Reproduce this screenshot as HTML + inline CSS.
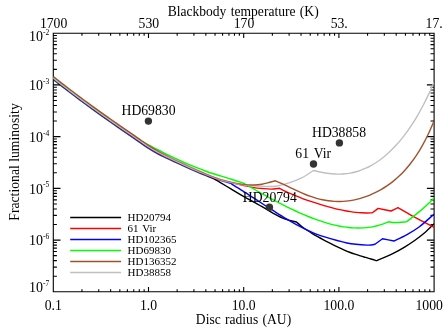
<!DOCTYPE html>
<html><head><meta charset="utf-8"><title>plot</title>
<style>
html,body{margin:0;padding:0;background:#fff;width:443px;height:332px;overflow:hidden}
#c{position:absolute;left:0;top:0;width:443px;height:332px;overflow:hidden;font-family:"Liberation Serif",serif;color:#000}
</style></head><body><div id="c">
<svg width="443" height="332" viewBox="0 0 443 332" style="display:block;position:absolute;left:0;top:0;will-change:transform">
<rect width="443" height="332" fill="#fff"/>
<path d="M53.3,33.2H434.1V291.8H53.3ZM53.30,291.8v-4.9M53.30,33.2v4.9M81.96,291.8v-2.5M81.96,33.2v2.5M98.72,291.8v-2.5M98.72,33.2v2.5M110.62,291.8v-2.5M110.62,33.2v2.5M119.84,291.8v-2.5M119.84,33.2v2.5M127.38,291.8v-2.5M127.38,33.2v2.5M133.75,291.8v-2.5M133.75,33.2v2.5M139.27,291.8v-2.5M139.27,33.2v2.5M144.14,291.8v-2.5M144.14,33.2v2.5M148.50,291.8v-4.9M148.50,33.2v4.9M177.16,291.8v-2.5M177.16,33.2v2.5M193.92,291.8v-2.5M193.92,33.2v2.5M205.82,291.8v-2.5M205.82,33.2v2.5M215.04,291.8v-2.5M215.04,33.2v2.5M222.58,291.8v-2.5M222.58,33.2v2.5M228.95,291.8v-2.5M228.95,33.2v2.5M234.47,291.8v-2.5M234.47,33.2v2.5M239.34,291.8v-2.5M239.34,33.2v2.5M243.70,291.8v-4.9M243.70,33.2v4.9M272.36,291.8v-2.5M272.36,33.2v2.5M289.12,291.8v-2.5M289.12,33.2v2.5M301.02,291.8v-2.5M301.02,33.2v2.5M310.24,291.8v-2.5M310.24,33.2v2.5M317.78,291.8v-2.5M317.78,33.2v2.5M324.15,291.8v-2.5M324.15,33.2v2.5M329.67,291.8v-2.5M329.67,33.2v2.5M334.54,291.8v-2.5M334.54,33.2v2.5M338.90,291.8v-4.9M338.90,33.2v4.9M367.56,291.8v-2.5M367.56,33.2v2.5M384.32,291.8v-2.5M384.32,33.2v2.5M396.22,291.8v-2.5M396.22,33.2v2.5M405.44,291.8v-2.5M405.44,33.2v2.5M412.98,291.8v-2.5M412.98,33.2v2.5M419.35,291.8v-2.5M419.35,33.2v2.5M424.87,291.8v-2.5M424.87,33.2v2.5M429.74,291.8v-2.5M429.74,33.2v2.5M434.10,291.8v-4.9M434.10,33.2v4.9M53.3,291.80h7.2M434.1,291.80h-7.2M53.3,276.23h3.6M434.1,276.23h-3.6M53.3,267.12h3.6M434.1,267.12h-3.6M53.3,260.66h3.6M434.1,260.66h-3.6M53.3,255.65h3.6M434.1,255.65h-3.6M53.3,251.55h3.6M434.1,251.55h-3.6M53.3,248.09h3.6M434.1,248.09h-3.6M53.3,245.09h3.6M434.1,245.09h-3.6M53.3,242.45h3.6M434.1,242.45h-3.6M53.3,240.08h7.2M434.1,240.08h-7.2M53.3,224.51h3.6M434.1,224.51h-3.6M53.3,215.40h3.6M434.1,215.40h-3.6M53.3,208.94h3.6M434.1,208.94h-3.6M53.3,203.93h3.6M434.1,203.93h-3.6M53.3,199.83h3.6M434.1,199.83h-3.6M53.3,196.37h3.6M434.1,196.37h-3.6M53.3,193.37h3.6M434.1,193.37h-3.6M53.3,190.73h3.6M434.1,190.73h-3.6M53.3,188.36h7.2M434.1,188.36h-7.2M53.3,172.79h3.6M434.1,172.79h-3.6M53.3,163.68h3.6M434.1,163.68h-3.6M53.3,157.22h3.6M434.1,157.22h-3.6M53.3,152.21h3.6M434.1,152.21h-3.6M53.3,148.11h3.6M434.1,148.11h-3.6M53.3,144.65h3.6M434.1,144.65h-3.6M53.3,141.65h3.6M434.1,141.65h-3.6M53.3,139.01h3.6M434.1,139.01h-3.6M53.3,136.64h7.2M434.1,136.64h-7.2M53.3,121.07h3.6M434.1,121.07h-3.6M53.3,111.96h3.6M434.1,111.96h-3.6M53.3,105.50h3.6M434.1,105.50h-3.6M53.3,100.49h3.6M434.1,100.49h-3.6M53.3,96.39h3.6M434.1,96.39h-3.6M53.3,92.93h3.6M434.1,92.93h-3.6M53.3,89.93h3.6M434.1,89.93h-3.6M53.3,87.29h3.6M434.1,87.29h-3.6M53.3,84.92h7.2M434.1,84.92h-7.2M53.3,69.35h3.6M434.1,69.35h-3.6M53.3,60.24h3.6M434.1,60.24h-3.6M53.3,53.78h3.6M434.1,53.78h-3.6M53.3,48.77h3.6M434.1,48.77h-3.6M53.3,44.67h3.6M434.1,44.67h-3.6M53.3,41.21h3.6M434.1,41.21h-3.6M53.3,38.21h3.6M434.1,38.21h-3.6M53.3,35.57h3.6M434.1,35.57h-3.6M53.3,33.20h7.2M434.1,33.20h-7.2" fill="none" stroke="#000" stroke-width="1.1"/>
<defs><linearGradient id="gblack" gradientUnits="userSpaceOnUse" x1="53.3" y1="0" x2="434.1" y2="0"><stop offset="0.0000" stop-color="#000" stop-opacity="0.7"/><stop offset="0.3984" stop-color="#000" stop-opacity="0.7"/><stop offset="0.4220" stop-color="#000" stop-opacity="1"/><stop offset="0.9997" stop-color="#000" stop-opacity="1"/></linearGradient><linearGradient id="gblue" gradientUnits="userSpaceOnUse" x1="53.3" y1="0" x2="434.1" y2="0"><stop offset="0.0000" stop-color="#00f" stop-opacity="0.5"/><stop offset="0.4430" stop-color="#00f" stop-opacity="0.5"/><stop offset="0.4693" stop-color="#00f" stop-opacity="1"/><stop offset="0.9997" stop-color="#00f" stop-opacity="1"/></linearGradient><linearGradient id="gbrown" gradientUnits="userSpaceOnUse" x1="53.3" y1="0" x2="434.1" y2="0"><stop offset="0.0000" stop-color="#a0522d" stop-opacity="1"/><stop offset="0.2539" stop-color="#a0522d" stop-opacity="1"/><stop offset="0.3117" stop-color="#a0522d" stop-opacity="0.6"/><stop offset="0.4798" stop-color="#a0522d" stop-opacity="0.6"/><stop offset="0.5165" stop-color="#a0522d" stop-opacity="1"/><stop offset="0.9997" stop-color="#a0522d" stop-opacity="1"/></linearGradient></defs>
<defs><clipPath id="cp"><rect x="53.3" y="33.2" width="380.8" height="258.6"/></clipPath></defs>
<g fill="none" stroke-width="1.4" stroke-linejoin="round" clip-path="url(#cp)">
<path d="M53.30,79.60C54.63,80.64 58.63,83.79 61.30,85.86C63.97,87.93 66.63,89.98 69.30,92.02C71.97,94.06 74.63,96.08 77.30,98.09C79.97,100.09 82.63,102.08 85.30,104.05C87.97,106.02 90.63,107.97 93.30,109.90C95.97,111.83 98.63,113.75 101.30,115.64C103.97,117.54 106.63,119.42 109.30,121.29C111.97,123.16 114.63,125.02 117.30,126.86C119.97,128.71 122.63,130.54 125.30,132.38C127.97,134.21 130.63,136.03 133.30,137.88C135.97,139.73 138.63,141.64 141.30,143.47C143.97,145.29 146.63,147.15 149.30,148.83C151.97,150.52 154.63,152.10 157.30,153.55C159.97,155.01 162.63,156.29 165.30,157.58C167.97,158.87 170.63,160.09 173.30,161.31C175.97,162.53 178.63,163.70 181.30,164.90C183.97,166.10 186.63,167.33 189.30,168.52C191.97,169.71 194.63,170.89 197.30,172.02C199.97,173.15 202.60,174.21 205.30,175.31C208.00,176.40 212.13,178.06 213.50,178.61C214.58,179.23 217.03,180.55 220.00,182.30C222.97,184.05 227.53,186.83 231.30,189.10C235.07,191.37 238.83,193.73 242.60,195.90C246.37,198.07 250.15,200.03 253.90,202.10C257.65,204.17 261.87,206.43 265.10,208.30C268.33,210.17 270.05,211.53 273.30,213.30C276.55,215.07 280.75,217.45 284.60,218.90C288.45,220.35 294.43,221.48 296.40,222.00C297.29,222.75 299.95,225.11 301.73,226.49C303.50,227.86 305.28,229.08 307.05,230.26C308.83,231.44 310.60,232.53 312.38,233.59C314.16,234.66 315.93,235.67 317.71,236.67C319.48,237.67 321.26,238.64 323.03,239.59C324.81,240.55 326.58,241.49 328.36,242.41C330.14,243.33 331.91,244.24 333.69,245.12C335.46,246.00 337.24,246.86 339.01,247.69C340.79,248.52 342.56,249.32 344.34,250.08C346.12,250.84 347.89,251.57 349.67,252.26C351.44,252.94 353.22,253.58 354.99,254.19C356.77,254.80 358.54,255.36 360.32,255.90C362.10,256.44 363.87,256.94 365.65,257.45C367.42,257.97 369.20,258.44 370.97,258.98C372.75,259.52 375.41,260.41 376.30,260.70C377.75,260.12 382.02,258.50 385.00,257.20C387.98,255.90 390.87,254.63 394.20,252.90C397.53,251.17 401.53,248.92 405.00,246.80C408.47,244.68 411.67,242.58 415.00,240.20C418.33,237.82 421.80,235.25 425.00,232.50C428.20,229.75 432.67,225.17 434.20,223.70" stroke="url(#gblack)"/>
<path d="M53.30,78.10C54.63,79.14 58.63,82.29 61.30,84.36C63.97,86.43 66.63,88.48 69.30,90.52C71.97,92.56 74.63,94.58 77.30,96.59C79.97,98.59 82.63,100.58 85.30,102.55C87.97,104.52 90.63,106.47 93.30,108.40C95.97,110.33 98.63,112.25 101.30,114.14C103.97,116.04 106.63,117.92 109.30,119.79C111.97,121.66 114.63,123.52 117.30,125.36C119.97,127.21 122.63,129.04 125.30,130.88C127.97,132.71 130.63,134.53 133.30,136.38C135.97,138.23 138.63,140.14 141.30,141.97C143.97,143.79 146.63,145.65 149.30,147.33C151.97,149.02 154.63,150.60 157.30,152.08C159.97,153.56 162.63,154.87 165.30,156.20C167.97,157.52 170.63,158.76 173.30,160.01C175.97,161.26 178.63,162.47 181.30,163.69C183.97,164.92 186.63,166.15 189.30,167.35C191.97,168.55 194.63,169.74 197.30,170.89C199.97,172.03 202.63,173.11 205.30,174.21C207.97,175.31 210.63,176.50 213.30,177.50C215.97,178.50 218.63,179.44 221.30,180.22C223.97,180.99 226.63,181.52 229.30,182.16C231.97,182.80 235.08,183.54 237.30,184.04C239.52,184.55 239.83,184.61 242.60,185.20C245.37,185.79 250.67,187.05 253.90,187.60C257.13,188.15 259.15,188.25 262.00,188.50C264.85,188.75 268.07,189.13 271.00,189.10C273.93,189.07 278.17,188.43 279.60,188.30C280.51,188.77 283.24,190.22 285.05,191.11C286.87,192.00 288.69,192.83 290.51,193.63C292.32,194.44 294.14,195.20 295.96,195.94C297.78,196.68 299.59,197.39 301.41,198.07C303.23,198.76 305.05,199.42 306.86,200.07C308.68,200.71 310.50,201.33 312.32,201.94C314.14,202.55 315.95,203.13 317.77,203.70C319.59,204.28 321.41,204.83 323.22,205.37C325.04,205.90 326.86,206.42 328.68,206.92C330.49,207.41 332.31,207.89 334.13,208.34C335.95,208.80 337.76,209.23 339.58,209.63C341.40,210.03 343.22,210.41 345.04,210.75C346.85,211.09 348.67,211.41 350.49,211.68C352.31,211.95 354.12,212.19 355.94,212.38C357.76,212.57 359.58,212.72 361.39,212.82C363.21,212.92 365.03,212.98 366.85,212.97C368.66,212.97 371.39,212.83 372.30,212.80C373.28,212.07 377.22,209.13 378.20,208.40C380.33,208.83 388.87,210.57 391.00,211.00C392.17,210.45 396.83,208.25 398.00,207.70C400.62,209.20 407.67,213.40 413.70,216.70C419.73,220.00 430.78,225.70 434.20,227.50" stroke="#f00"/>
<path d="M53.30,79.20C54.63,80.24 58.63,83.39 61.30,85.46C63.97,87.53 66.63,89.58 69.30,91.62C71.97,93.66 74.63,95.68 77.30,97.69C79.97,99.69 82.63,101.68 85.30,103.65C87.97,105.62 90.63,107.57 93.30,109.50C95.97,111.43 98.63,113.35 101.30,115.24C103.97,117.14 106.63,119.02 109.30,120.89C111.97,122.76 114.63,124.62 117.30,126.46C119.97,128.31 122.63,130.14 125.30,131.98C127.97,133.81 130.63,135.63 133.30,137.48C135.97,139.33 138.63,141.24 141.30,143.07C143.97,144.89 146.63,146.75 149.30,148.43C151.97,150.12 154.63,151.70 157.30,153.15C159.97,154.61 162.63,155.89 165.30,157.18C167.97,158.47 170.63,159.69 173.30,160.91C175.97,162.13 178.63,163.30 181.30,164.50C183.97,165.70 186.63,166.93 189.30,168.12C191.97,169.31 194.63,170.49 197.30,171.62C199.97,172.75 202.63,173.82 205.30,174.90C207.97,175.99 210.63,177.14 213.30,178.12C215.97,179.11 218.48,179.96 221.30,180.80C224.12,181.64 228.72,182.76 230.20,183.15C232.27,184.43 238.65,188.31 242.60,190.80C246.55,193.29 250.15,195.65 253.90,198.10C257.65,200.55 261.87,203.40 265.10,205.50C268.33,207.60 270.05,208.65 273.30,210.70C276.55,212.75 280.83,215.53 284.60,217.80C288.37,220.07 291.38,221.90 295.90,224.30C300.42,226.70 307.48,230.27 311.70,232.20C315.92,234.13 315.33,234.10 321.20,235.90C327.07,237.70 339.20,241.47 346.90,243.00C354.60,244.53 362.72,244.90 367.40,245.10C372.08,245.30 373.73,244.35 375.00,244.20C376.25,243.28 381.25,239.62 382.50,238.70C384.42,239.08 392.08,240.62 394.00,241.00C396.08,239.97 402.32,237.13 406.50,234.80C410.68,232.47 414.48,230.47 419.10,227.00C423.72,223.53 431.68,216.17 434.20,214.00" stroke="url(#gblue)"/>
<path d="M53.30,77.90C54.63,78.94 58.63,82.07 61.30,84.14C63.97,86.20 66.63,88.25 69.30,90.28C71.97,92.31 74.63,94.32 77.30,96.32C79.97,98.32 82.63,100.30 85.30,102.26C87.97,104.23 90.63,106.17 93.30,108.10C95.97,110.02 98.63,111.93 101.30,113.82C103.97,115.71 106.63,117.58 109.30,119.45C111.97,121.31 114.63,123.16 117.30,125.00C119.97,126.84 122.63,128.70 125.30,130.49C127.97,132.28 130.63,134.03 133.30,135.74C135.97,137.45 138.63,139.14 141.30,140.74C143.97,142.34 146.63,143.88 149.30,145.32C151.97,146.76 154.63,148.02 157.30,149.40C159.97,150.77 162.63,152.23 165.30,153.57C167.97,154.92 170.63,156.18 173.30,157.45C175.97,158.72 178.63,159.99 181.30,161.19C183.97,162.39 186.63,163.53 189.30,164.65C191.97,165.77 194.63,166.87 197.30,167.93C199.97,168.99 202.63,170.01 205.30,170.99C207.97,171.96 210.63,172.92 213.30,173.78C215.97,174.64 218.63,175.35 221.30,176.16C223.97,176.97 226.63,177.78 229.30,178.63C231.97,179.47 234.80,180.41 237.30,181.22C239.80,182.04 243.13,183.12 244.30,183.50C245.13,183.98 247.61,185.43 249.27,186.39C250.93,187.35 252.58,188.31 254.24,189.26C255.89,190.21 257.55,191.15 259.21,192.08C260.86,193.02 262.52,193.95 264.18,194.87C265.83,195.79 267.49,196.70 269.14,197.60C270.80,198.50 272.46,199.39 274.11,200.27C275.77,201.15 277.43,202.02 279.08,202.88C280.74,203.74 282.40,204.59 284.05,205.42C285.71,206.25 287.36,207.07 289.02,207.88C290.68,208.68 292.33,209.47 293.99,210.25C295.65,211.02 297.30,211.78 298.96,212.52C300.61,213.26 302.27,213.98 303.93,214.68C305.58,215.39 307.24,216.07 308.90,216.74C310.55,217.40 312.21,218.04 313.87,218.66C315.52,219.28 317.18,219.88 318.83,220.45C320.49,221.02 322.15,221.56 323.80,222.08C325.46,222.60 327.12,223.09 328.77,223.55C330.43,224.01 332.09,224.45 333.74,224.84C335.40,225.24 337.05,225.61 338.71,225.94C340.37,226.27 342.02,226.57 343.68,226.83C345.34,227.09 346.99,227.31 348.65,227.49C350.30,227.66 351.96,227.80 353.62,227.89C355.27,227.98 356.93,228.03 358.59,228.03C360.24,228.03 361.90,227.98 363.56,227.88C365.21,227.77 366.87,227.62 368.52,227.40C370.18,227.19 371.84,226.92 373.49,226.59C375.15,226.25 376.81,225.86 378.46,225.40C380.12,224.94 381.77,224.41 383.43,223.81C385.09,223.21 387.57,222.14 388.40,221.80C389.50,221.92 391.98,222.50 395.00,222.50C398.02,222.50 404.58,221.92 406.50,221.80C408.60,220.15 415.62,214.77 419.10,211.90C422.58,209.03 424.88,206.97 427.40,204.60C429.92,202.23 433.07,198.85 434.20,197.70" stroke="#0f0"/>
<path d="M53.30,77.90C54.63,78.94 58.63,82.09 61.30,84.16C63.97,86.23 66.63,88.28 69.30,90.32C71.97,92.36 74.63,94.38 77.30,96.39C79.97,98.39 82.63,100.38 85.30,102.35C87.97,104.32 90.63,106.27 93.30,108.20C95.97,110.13 98.63,112.05 101.30,113.94C103.97,115.84 106.63,117.72 109.30,119.59C111.97,121.46 114.63,123.32 117.30,125.16C119.97,127.01 122.63,128.84 125.30,130.68C127.97,132.51 130.63,134.33 133.30,136.18C135.97,138.03 138.63,139.94 141.30,141.77C143.97,143.59 146.63,145.45 149.30,147.13C151.97,148.82 154.63,150.40 157.30,151.89C159.97,153.37 162.63,154.70 165.30,156.03C167.97,157.37 170.63,158.62 173.30,159.88C175.97,161.14 178.63,162.36 181.30,163.59C183.97,164.82 186.63,166.05 189.30,167.25C191.97,168.45 194.63,169.64 197.30,170.79C199.97,171.93 202.63,173.00 205.30,174.11C207.97,175.22 210.63,176.42 213.30,177.43C215.97,178.44 218.63,179.39 221.30,180.18C223.97,180.96 226.63,181.54 229.30,182.15C231.97,182.77 235.08,183.42 237.30,183.88C239.52,184.34 239.83,184.58 242.60,184.90C245.37,185.22 250.67,185.57 253.90,185.80C257.13,186.03 258.40,186.22 262.00,186.30C265.60,186.38 270.98,186.88 275.50,186.30C280.02,185.72 284.73,184.20 289.10,182.80C293.47,181.40 297.63,179.95 301.70,177.90C305.77,175.85 311.53,171.73 313.50,170.50C314.37,170.70 316.99,171.35 318.73,171.72C320.47,172.10 322.22,172.45 323.96,172.75C325.70,173.05 327.45,173.32 329.19,173.52C330.93,173.73 332.68,173.89 334.42,173.98C336.17,174.08 337.91,174.12 339.65,174.09C341.40,174.06 343.14,173.97 344.88,173.81C346.63,173.64 348.37,173.41 350.11,173.11C351.86,172.80 353.60,172.42 355.34,171.96C357.09,171.50 358.83,170.96 360.57,170.34C362.32,169.72 364.06,169.02 365.80,168.23C367.55,167.45 369.29,166.58 371.03,165.62C372.78,164.65 374.52,163.61 376.27,162.47C378.01,161.33 379.75,160.10 381.50,158.77C383.24,157.44 384.98,156.01 386.73,154.49C388.47,152.96 390.21,151.34 391.96,149.60C393.70,147.86 395.44,146.03 397.19,144.07C398.93,142.11 400.67,140.05 402.42,137.85C404.16,135.66 405.90,133.35 407.65,130.90C409.39,128.46 411.13,125.89 412.88,123.16C414.62,120.44 416.37,117.58 418.11,114.55C419.85,111.53 421.60,108.36 423.34,105.00C425.08,101.65 426.83,98.13 428.57,94.41C430.31,90.70 432.93,84.65 433.80,82.70" stroke="#c0c0c0"/>
<path d="M53.30,76.60C54.63,77.64 58.63,80.79 61.30,82.86C63.97,84.93 66.63,86.98 69.30,89.02C71.97,91.06 74.63,93.08 77.30,95.09C79.97,97.09 82.63,99.08 85.30,101.05C87.97,103.02 90.63,104.97 93.30,106.90C95.97,108.83 98.63,110.75 101.30,112.64C103.97,114.54 106.63,116.42 109.30,118.29C111.97,120.16 114.63,122.02 117.30,123.86C119.97,125.71 122.63,127.54 125.30,129.38C127.97,131.21 130.63,133.03 133.30,134.88C135.97,136.73 138.63,138.64 141.30,140.47C143.97,142.29 146.63,144.14 149.30,145.83C151.97,147.53 154.63,149.11 157.30,150.62C159.97,152.13 162.63,153.52 165.30,154.89C167.97,156.26 170.63,157.55 173.30,158.85C175.97,160.15 178.63,161.41 181.30,162.68C183.97,163.95 186.63,165.23 189.30,166.48C191.97,167.73 194.63,168.96 197.30,170.15C199.97,171.34 202.63,172.48 205.30,173.61C207.97,174.74 210.63,175.92 213.30,176.93C215.97,177.94 218.63,178.89 221.30,179.68C223.97,180.46 226.63,181.04 229.30,181.65C231.97,182.27 235.08,182.92 237.30,183.38C239.52,183.84 239.83,184.13 242.60,184.40C245.37,184.67 250.67,185.03 253.90,185.00C257.13,184.97 259.37,184.65 262.00,184.20C264.63,183.75 267.45,182.87 269.70,182.30C271.95,181.73 274.53,181.05 275.50,180.80C276.48,181.23 279.41,182.48 281.36,183.37C283.32,184.27 285.27,185.23 287.23,186.16C289.18,187.10 291.13,188.06 293.09,188.99C295.04,189.92 297.00,190.84 298.95,191.72C300.91,192.59 302.86,193.45 304.81,194.23C306.77,195.02 308.72,195.77 310.68,196.45C312.63,197.13 314.59,197.76 316.54,198.31C318.50,198.86 320.45,199.34 322.40,199.75C324.36,200.17 326.31,200.51 328.27,200.77C330.22,201.04 332.18,201.23 334.13,201.34C336.08,201.45 338.04,201.49 339.99,201.46C341.95,201.42 343.90,201.31 345.86,201.12C347.81,200.94 349.76,200.67 351.72,200.34C353.67,200.00 355.63,199.59 357.58,199.11C359.54,198.63 361.49,198.07 363.44,197.44C365.40,196.80 367.35,196.10 369.31,195.31C371.26,194.52 373.22,193.66 375.17,192.70C377.12,191.75 379.08,190.72 381.03,189.59C382.99,188.46 384.94,187.25 386.90,185.92C388.85,184.59 390.80,183.17 392.76,181.61C394.71,180.05 396.67,178.39 398.62,176.56C400.58,174.74 402.53,172.80 404.49,170.67C406.44,168.53 408.39,166.26 410.35,163.75C412.30,161.24 414.26,158.58 416.21,155.63C418.17,152.68 420.12,149.54 422.07,146.07C424.03,142.60 425.98,138.90 427.94,134.80C429.89,130.71 432.82,123.72 433.80,121.50" stroke="url(#gbrown)"/>
</g>
<circle cx="148.4" cy="121.1" r="3.7" fill="#333"/>
<circle cx="269.4" cy="207.3" r="3.7" fill="#333"/>
<circle cx="313.5" cy="164" r="3.7" fill="#333"/>
<circle cx="339.4" cy="142.9" r="3.7" fill="#333"/>
<g stroke-width="1.5">
<line x1="70.2" x2="121.1" y1="217.5" y2="217.5" stroke="#000"/>
<line x1="70.2" x2="121.1" y1="228.55" y2="228.55" stroke="#f00"/>
<line x1="70.2" x2="121.1" y1="239.6" y2="239.6" stroke="#00f"/>
<line x1="70.2" x2="121.1" y1="250.55" y2="250.55" stroke="#0f0"/>
<line x1="70.2" x2="121.1" y1="261.55" y2="261.55" stroke="#a0522d"/>
<line x1="70.2" x2="121.1" y1="272.6" y2="272.6" stroke="#c0c0c0"/>
</g>
<g font-family="Liberation Serif, serif" fill="#000"><text x="243.20" y="16.10" font-size="13.55" text-anchor="middle" style="word-spacing:1px">Blackbody temperature (K)</text>
<text x="243.50" y="324.00" font-size="13.55" text-anchor="middle" style="word-spacing:1px">Disc radius (AU)</text>
<text x="53.60" y="28.00" font-size="13.7" text-anchor="middle">1700</text>
<text x="148.80" y="28.00" font-size="13.7" text-anchor="middle">530</text>
<text x="244.00" y="28.00" font-size="13.7" text-anchor="middle">170</text>
<text x="339.20" y="28.00" font-size="13.7" text-anchor="middle">53.</text>
<text x="434.10" y="28.00" font-size="13.7" text-anchor="middle">17.</text>
<text x="53.30" y="310.00" font-size="13.7" text-anchor="middle">0.1</text>
<text x="148.50" y="310.00" font-size="13.7" text-anchor="middle">1.0</text>
<text x="243.70" y="310.00" font-size="13.7" text-anchor="middle">10.0</text>
<text x="338.90" y="310.00" font-size="13.7" text-anchor="middle">100.0</text>
<text x="430.90" y="310.00" font-size="13.7" text-anchor="middle">1000.</text>
<text x="49.30" y="292.40" font-size="14" text-anchor="end">10<tspan font-size="7.5" dy="-6.2">-7</tspan></text>
<text x="49.30" y="245.28" font-size="14" text-anchor="end">10<tspan font-size="7.5" dy="-6.2">-6</tspan></text>
<text x="49.30" y="193.56" font-size="14" text-anchor="end">10<tspan font-size="7.5" dy="-6.2">-5</tspan></text>
<text x="49.30" y="141.84" font-size="14" text-anchor="end">10<tspan font-size="7.5" dy="-6.2">-4</tspan></text>
<text x="49.30" y="90.12" font-size="14" text-anchor="end">10<tspan font-size="7.5" dy="-6.2">-3</tspan></text>
<text x="49.30" y="41.40" font-size="14" text-anchor="end">10<tspan font-size="7.5" dy="-6.2">-2</tspan></text>
<text x="121.50" y="115.00" font-size="13.7" text-anchor="start">HD69830</text>
<text x="242.80" y="202.00" font-size="13.7" text-anchor="start">HD20794</text>
<text x="295.30" y="157.60" font-size="13.7" text-anchor="start" style="word-spacing:1.6px">61 Vir</text>
<text x="312.00" y="137.00" font-size="13.7" text-anchor="start">HD38858</text>
<text x="127.50" y="220.80" font-size="11" text-anchor="start">HD20794</text>
<text x="127.50" y="231.85" font-size="11" text-anchor="start" style="word-spacing:1.2px">61 Vir</text>
<text x="127.50" y="242.90" font-size="11" text-anchor="start">HD102365</text>
<text x="127.50" y="253.85" font-size="11" text-anchor="start">HD69830</text>
<text x="127.50" y="264.85" font-size="11" text-anchor="start">HD136352</text>
<text x="127.50" y="275.90" font-size="11" text-anchor="start">HD38858</text>
<text transform="translate(19,162.0) rotate(-90)" font-size="13.7" text-anchor="middle">Fractional luminosity</text></g>
</svg>

</div></body></html>
